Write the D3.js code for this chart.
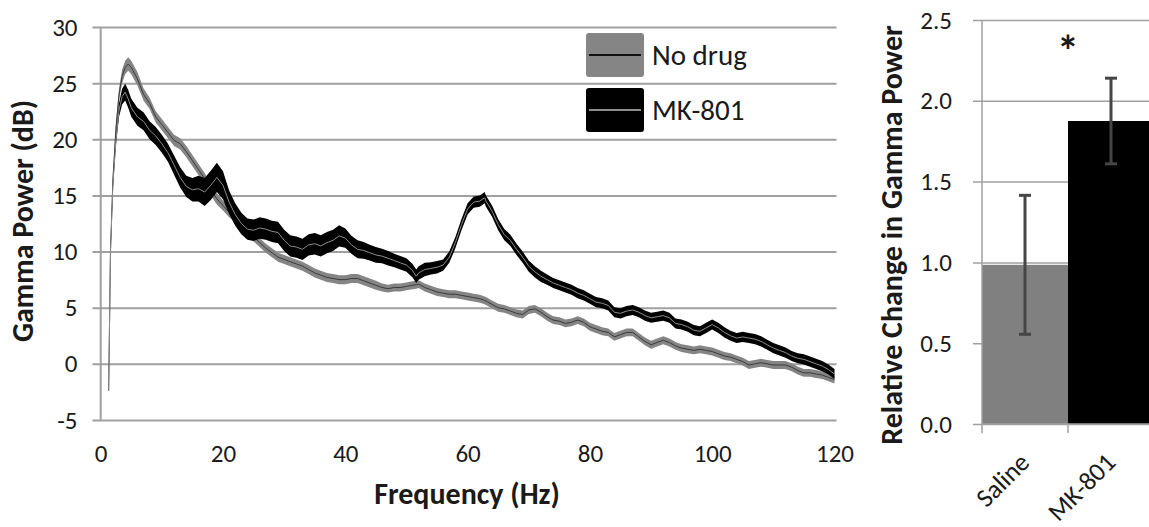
<!DOCTYPE html>
<html>
<head>
<meta charset="utf-8">
<script src="https://cdn.jsdelivr.net/npm/d3@7"></script>
<style>
  body { margin: 0; background: #fff; }
  svg { display: block; }
  text { font-family: Carlito, Calibri, Lato, "Open Sans", sans-serif; fill: #1a1a1a; }
</style>
</head>
<body>
<svg id="chart" width="1149" height="527"></svg>
<script>
// ---- Power spectrum (left panel) ----
const freq = [
  1.3, 1.6, 2, 2.5, 3, 3.5, 4, 4.5, 5,
  6, 7, 8, 9, 10, 11, 12, 13, 14, 15,
  16, 17, 18, 19, 20, 21, 22, 23, 24, 25,
  26, 27, 28, 29, 30, 31, 32, 33, 34, 35,
  36, 37, 38, 39, 40, 41, 42, 43, 44, 45,
  46, 47, 48, 49, 50, 51, 51.6,
  52, 53, 54, 55, 56, 57, 58, 59, 60, 61, 62, 62.8,
  63, 64, 65, 66, 67, 68, 69, 70, 71, 72,
  73, 74, 75, 76, 77, 78, 79, 80, 81, 82,
  83, 84, 85, 86, 87, 88, 89, 90, 91, 92,
  93, 94, 95, 96, 97, 98, 99, 100, 101, 102,
  103, 104, 105, 106, 107, 108, 109, 110, 111, 112,
  113, 114, 115, 116, 117, 118, 119, 120
];

const noDrugMean = [
  -2.4, 10, 16.5, 21, 24, 25.6, 26.4, 26.7, 26.4,
  25.4, 24.0, 23.2, 22.0, 21.3, 20.6, 19.9, 19.6, 18.9, 18.1,
  17.3, 16.5, 15.5, 14.7, 14.1, 13.5, 13.0, 12.4, 11.9, 11.3,
  10.8, 10.3, 9.9, 9.5, 9.3, 9.1, 8.9, 8.7, 8.4, 8.1,
  7.9, 7.7, 7.6, 7.5, 7.5, 7.6, 7.6, 7.4, 7.2, 7.0,
  6.8, 6.7, 6.8, 6.8, 6.9, 7.0, 7.05,
  7.1, 6.8, 6.6, 6.4, 6.3, 6.2, 6.2, 6.1, 6.0, 5.9, 5.8, 5.65,
  5.6, 5.3, 5.0, 4.9, 4.7, 4.5, 4.4, 4.8, 4.9, 4.6,
  4.2, 3.9, 3.8, 3.6, 3.7, 3.9, 3.7, 3.3, 3.1, 2.9,
  2.8, 2.4, 2.6, 2.8, 2.8, 2.4, 2.0, 1.7, 1.9, 2.1,
  1.9, 1.6, 1.4, 1.3, 1.2, 1.3, 1.2, 1.1, 0.9, 0.7,
  0.6, 0.4, 0.2, -0.1, 0.0, 0.1, 0.0, -0.1, -0.1, -0.1,
  -0.3, -0.6, -0.8, -0.8, -0.9, -1.0, -1.2, -1.4
];

const noDrugSem = [
  0.2, 0.3, 0.4, 0.5, 0.55, 0.6, 0.6, 0.6, 0.6,
  0.6, 0.55, 0.5, 0.5, 0.5, 0.5, 0.5, 0.5, 0.5, 0.5,
  0.5, 0.5, 0.5, 0.5, 0.45, 0.45, 0.4, 0.4, 0.4, 0.4,
  0.4, 0.4, 0.4, 0.4, 0.4, 0.4, 0.4, 0.4, 0.4, 0.4,
  0.4, 0.4, 0.4, 0.4, 0.4, 0.4, 0.4, 0.4, 0.4, 0.4,
  0.35, 0.35, 0.35, 0.35, 0.35, 0.35, 0.35,
  0.35, 0.35, 0.35, 0.35, 0.35, 0.35, 0.35, 0.35, 0.35, 0.35, 0.35, 0.35,
  0.35, 0.35, 0.35, 0.35, 0.35, 0.35, 0.35, 0.35, 0.35, 0.35,
  0.35, 0.35, 0.35, 0.35, 0.35, 0.35, 0.35, 0.35, 0.35, 0.35,
  0.35, 0.35, 0.35, 0.35, 0.35, 0.35, 0.35, 0.35, 0.35, 0.35,
  0.35, 0.35, 0.35, 0.35, 0.35, 0.35, 0.35, 0.35, 0.35, 0.35,
  0.35, 0.35, 0.35, 0.35, 0.35, 0.35, 0.35, 0.35, 0.35, 0.35,
  0.35, 0.35, 0.35, 0.35, 0.35, 0.35, 0.35, 0.35
];

const mk801Mean = [
  -2.4, 10, 16, 20, 22.6, 23.8, 24.2, 23.6, 22.8,
  22.0, 21.6, 20.8, 20.3, 19.6, 18.8, 17.7, 16.6, 15.8, 15.5,
  15.6, 15.3, 15.9, 16.6, 15.9, 14.4, 13.3, 12.5, 12.0, 11.9,
  12.1, 12.0, 11.8, 11.7, 11.0, 10.5, 10.4, 10.2, 10.6, 10.7,
  10.5, 10.8, 11.0, 11.4, 11.2, 10.6, 10.2, 10.1, 9.9, 9.7,
  9.6, 9.4, 9.2, 9.0, 8.8, 8.3, 7.8,
  8.1, 8.4, 8.5, 8.6, 8.8, 9.5, 10.8, 12.4, 13.8, 14.4, 14.5, 14.8,
  14.5, 13.6, 12.4, 11.5, 11.0, 10.2, 9.5, 8.7, 8.2, 7.8,
  7.5, 7.2, 7.0, 6.8, 6.6, 6.3, 6.1, 5.8, 5.5, 5.4,
  5.2, 4.6, 4.5, 4.7, 4.8, 4.6, 4.3, 4.1, 4.2, 4.3,
  4.1, 3.6, 3.5, 3.3, 3.0, 2.9, 3.2, 3.5, 3.2, 2.8,
  2.5, 2.3, 2.4, 2.3, 2.2, 2.0, 1.7, 1.4, 1.2, 1.0,
  0.7, 0.5, 0.4, 0.2, 0.0, -0.2, -0.5, -0.9
];

const mk801Sem = [
  0.2, 0.3, 0.4, 0.5, 0.6, 0.7, 0.75, 0.8, 0.8,
  0.8, 0.8, 0.8, 0.8, 0.8, 0.8, 0.85, 0.9, 0.95, 1.05,
  1.15, 1.25, 1.3, 1.3, 1.25, 1.05, 1.0, 0.95, 0.95, 0.95,
  0.95, 0.95, 0.95, 0.95, 0.95, 0.95, 0.95, 0.95, 0.95, 0.95,
  0.95, 0.95, 0.95, 0.95, 0.85, 0.8, 0.8, 0.75, 0.7, 0.7,
  0.65, 0.65, 0.6, 0.6, 0.6, 0.6, 0.6,
  0.6, 0.6, 0.55, 0.55, 0.5, 0.5, 0.5, 0.5, 0.5, 0.5, 0.5, 0.5,
  0.5, 0.5, 0.5, 0.5, 0.5, 0.5, 0.5, 0.5, 0.5, 0.5,
  0.45, 0.45, 0.45, 0.45, 0.45, 0.45, 0.45, 0.45, 0.45, 0.45,
  0.45, 0.45, 0.45, 0.45, 0.45, 0.45, 0.45, 0.45, 0.45, 0.45,
  0.45, 0.45, 0.45, 0.45, 0.45, 0.45, 0.45, 0.45, 0.45, 0.45,
  0.45, 0.45, 0.45, 0.45, 0.45, 0.45, 0.45, 0.45, 0.45, 0.45,
  0.45, 0.45, 0.45, 0.45, 0.45, 0.45, 0.45, 0.45
];

const powerTicks = [-5, 0, 5, 10, 15, 20, 25, 30];
const freqTicks = [0, 20, 40, 60, 80, 100, 120];
const seriesNames = ["No drug", "MK-801"];

// ---- Relative gamma power (right panel) ----
const groups = ["Saline", "MK-801"];
const relChange = [0.985, 1.875];
const relChangeErr = [0.43, 0.265];
const relTicks = [0, 0.5, 1.0, 1.5, 2.0, 2.5];

const svg = d3.select("#chart");
const gridColor = "#a0a0a0";
const labelSize = 25;
const titleSize = 30;

// ===== Left panel =====
const x = d3.scaleLinear().domain([0, 120]).range([100.7, 834.5]);
const y = d3.scaleLinear().domain([-5, 30]).range([420, 27]);

// horizontal gridlines with outer ticks
const yAxis = svg.append("g")
  .attr("transform", "translate(92.5,0)")
  .call(d3.axisLeft(y).tickValues(powerTicks).tickFormat(d3.format("d"))
    .tickSize(-(x(120) + 2 - 92.5)).tickSizeOuter(0).tickPadding(15));
yAxis.select(".domain").remove();
yAxis.selectAll(".tick line").attr("stroke", gridColor).attr("stroke-width", 2);
yAxis.selectAll(".tick text").attr("font-size", labelSize).attr("fill", "#1a1a1a")
  .text(d => d < 0 ? "-" + Math.abs(d) : d);

// vertical axis line
svg.append("line")
  .attr("x1", x(0)).attr("x2", x(0)).attr("y1", y(30)).attr("y2", y(-5))
  .attr("stroke", gridColor).attr("stroke-width", 2);

// frequency labels
const xAxis = svg.append("g")
  .attr("transform", `translate(0,${y(-5)})`)
  .call(d3.axisBottom(x).tickValues(freqTicks).tickSize(0).tickPadding(24));
xAxis.select(".domain").remove();
xAxis.selectAll(".tick text").attr("font-size", labelSize).attr("fill", "#1a1a1a");

svg.append("text")
  .attr("x", 467).attr("y", 504)
  .attr("text-anchor", "middle").attr("font-weight", "bold").attr("font-size", titleSize)
  .text("Frequency (Hz)");

svg.append("text")
  .attr("transform", "translate(33,221) rotate(-90)")
  .attr("text-anchor", "middle").attr("font-weight", "bold").attr("font-size", titleSize)
  .text("Gamma Power (dB)");

// shaded SEM bands and mean traces
const series = [
  { mean: noDrugMean, sem: noDrugSem, band: "#858585", line: "#3a3a3a" },
  { mean: mk801Mean, sem: mk801Sem, band: "#000000", line: "#8c8c8c" }
];

series.forEach(s => {
  const pts = freq.map((f, i) => ({ f, m: s.mean[i], e: s.sem[i] }));
  svg.append("path")
    .datum(pts)
    .attr("fill", s.band)
    .attr("d", d3.area().x(d => x(d.f)).y0(d => y(d.m - d.e)).y1(d => y(d.m + d.e)));
  svg.append("path")
    .datum(pts)
    .attr("fill", "none")
    .attr("stroke", s.line)
    .attr("stroke-width", 1)
    .attr("d", d3.line().x(d => x(d.f)).y(d => y(d.m)));
});

// legend
const legend = svg.append("g").attr("transform", "translate(586,33)");
seriesNames.forEach((name, i) => {
  const g = legend.append("g").attr("transform", `translate(0,${i * 55})`);
  g.append("rect").attr("width", 58).attr("height", 44).attr("rx", 3)
    .attr("fill", series[i].band);
  g.append("line").attr("x1", 3).attr("x2", 55).attr("y1", 22).attr("y2", 22)
    .attr("stroke", i === 0 ? "#111" : "#8c8c8c").attr("stroke-width", 2);
  g.append("text").attr("x", 66).attr("y", 22).attr("dy", "0.36em")
    .attr("font-size", 29).text(name);
});

// ===== Right panel =====
const xb = d3.scaleBand().domain(groups).range([982, 1154]).padding(0);
const yb = d3.scaleLinear().domain([0, 2.5]).range([424, 20]);

const ybAxis = svg.append("g")
  .attr("transform", "translate(973,0)")
  .call(d3.axisLeft(yb).tickValues(relTicks).tickFormat(d3.format(".1f"))
    .tickSize(-(1149 - 973)).tickSizeOuter(0).tickPadding(21));
ybAxis.select(".domain").remove();
ybAxis.selectAll(".tick line").attr("stroke", gridColor).attr("stroke-width", 1.5);
ybAxis.selectAll(".tick text").attr("font-size", labelSize).attr("fill", "#1a1a1a");

svg.append("text")
  .attr("transform", "translate(902,235) rotate(-90)")
  .attr("text-anchor", "middle").attr("font-weight", "bold").attr("font-size", titleSize)
  .text("Relative Change in Gamma Power");

// bars
svg.selectAll("rect.bar")
  .data(groups)
  .join("rect")
  .attr("class", "bar")
  .attr("x", d => xb(d))
  .attr("width", xb.bandwidth())
  .attr("y", (d, i) => yb(relChange[i]))
  .attr("height", (d, i) => yb(0) - yb(relChange[i]))
  .attr("fill", (d, i) => i === 0 ? "#808080" : "#000000");

// axis lines
svg.append("line")
  .attr("x1", 982).attr("x2", 982).attr("y1", yb(2.5)).attr("y2", yb(0) + 9)
  .attr("stroke", gridColor).attr("stroke-width", 1.5);
svg.append("line")
  .attr("x1", 982).attr("x2", 1149).attr("y1", yb(0)).attr("y2", yb(0))
  .attr("stroke", gridColor).attr("stroke-width", 1.5);
svg.append("line")
  .attr("x1", xb("MK-801")).attr("x2", xb("MK-801")).attr("y1", yb(0)).attr("y2", yb(0) + 9)
  .attr("stroke", gridColor).attr("stroke-width", 1.5);

// error bars
groups.forEach((gName, i) => {
  const cx = xb(gName) + xb.bandwidth() / 2;
  const hi = yb(relChange[i] + relChangeErr[i]);
  const lo = yb(relChange[i] - relChangeErr[i]);
  const eb = svg.append("g").attr("stroke", "#454545").attr("stroke-width", 3);
  eb.append("line").attr("x1", cx).attr("x2", cx).attr("y1", hi).attr("y2", lo);
  eb.append("line").attr("x1", cx - 6).attr("x2", cx + 6).attr("y1", hi).attr("y2", hi);
  eb.append("line").attr("x1", cx - 6).attr("x2", cx + 6).attr("y1", lo).attr("y2", lo);
});

// category labels
groups.forEach(gName => {
  const cx = xb(gName) + xb.bandwidth() / 2;
  svg.append("text")
    .attr("transform", `translate(${cx + 6},${yb(0) + 40}) rotate(-45)`)
    .attr("text-anchor", "end").attr("font-size", 26)
    .text(gName);
});

// significance marker
svg.append("text")
  .attr("x", xb("MK-801")).attr("y", 66)
  .attr("text-anchor", "middle").attr("font-weight", "bold").attr("font-size", 44)
  .text("*");
</script>
</body>
</html>
